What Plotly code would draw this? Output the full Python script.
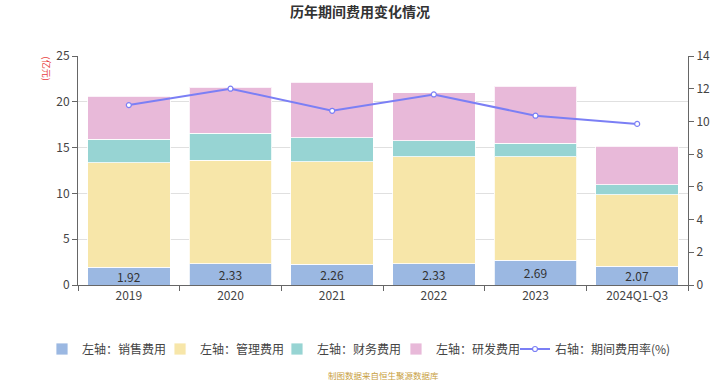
import plotly.graph_objects as go

categories = ["2019", "2020", "2021", "2022", "2023", "2024Q1-Q3"]
sales = [1.92, 2.33, 2.26, 2.33, 2.69, 2.07]
mgmt = [11.43, 11.28, 11.17, 11.67, 11.31, 7.79]
finance = [2.55, 2.95, 2.65, 1.75, 1.47, 1.06]
rnd = [4.73, 5.04, 6.05, 5.24, 6.22, 4.22]
rate = [11.0, 12.0, 10.65, 11.65, 10.35, 9.85]

font_family = "Noto Sans CJK SC, Noto Sans, sans-serif"

fig = go.Figure()
bar_specs = [
    ("左轴：销售费用", sales, "#9bb8e2", "legend"),
    ("左轴：管理费用", mgmt, "#f7e6a9", "legend2"),
    ("左轴：财务费用", finance, "#97d4d3", "legend3"),
    ("左轴：研发费用", rnd, "#e8b9d9", "legend4"),
]
for i, (name, vals, color, lg) in enumerate(bar_specs):
    kw = {}
    if i == 0:
        kw = dict(text=[f"{v:.2f}" for v in vals], textposition="inside",
                  insidetextanchor="middle", constraintext="none",
                  textfont=dict(color="#333333", size=12, family=font_family))
    fig.add_trace(go.Bar(
        x=categories, y=vals, name=name, legend=lg,
        marker=dict(color=color, line=dict(color="rgba(255,255,255,0.8)", width=1)),
        hoverinfo="skip", **kw))

fig.add_trace(go.Scatter(
    x=categories, y=rate, name="右轴：期间费用率(%)", yaxis="y2",
    legend="legend5",
    mode="lines+markers",
    line=dict(color="#7b7ff5", width=2),
    marker=dict(symbol="circle", size=5, color="white",
                line=dict(color="#7b7ff5", width=1.2)),
))

legend_common = dict(orientation="h", xanchor="left", y=-0.2795,
                     yanchor="middle", font=dict(size=12, color="#444444"),
                     itemwidth=30, traceorder="normal", tracegroupgap=0,
                     bgcolor="rgba(0,0,0,0)")

fig.update_layout(
    width=720, height=380,
    barmode="stack", bargap=0.19,
    paper_bgcolor="white", plot_bgcolor="white",
    margin=dict(l=78, r=32, t=56, b=95, autoexpand=False),
    font=dict(family=font_family, size=12, color="#555555"),
    title=dict(text="<b>历年期间费用变化情况</b>", x=0.5, xanchor="center",
               y=0.968, yanchor="middle",
               font=dict(size=14, color="#333333", family=font_family)),
    xaxis=dict(type="category", tickson="boundaries", ticks="outside",
               ticklen=5, tickcolor="#666666", showline=True,
               linecolor="#666666", linewidth=1, showgrid=False,
               tickfont=dict(size=12, color="#444444")),
    yaxis=dict(range=[0, 25], dtick=5, showline=True, linecolor="#666666",
               ticks="outside", ticklen=5, tickcolor="#666666",
               gridcolor="#e0e0e0", zeroline=False,
               tickfont=dict(size=12, color="#444444")),
    yaxis2=dict(range=[0, 14], dtick=2, overlaying="y", side="right",
                showline=True, linecolor="#666666", ticks="outside",
                ticklen=5, tickcolor="#666666", showgrid=False,
                zeroline=False, tickfont=dict(size=12, color="#444444")),
    legend=dict(x=-0.0590, **legend_common),
    legend2=dict(x=0.1345, **legend_common),
    legend3=dict(x=0.3262, **legend_common),
    legend4=dict(x=0.5213, **legend_common),
    legend5=dict(x=0.7164, **legend_common),
    showlegend=True,
)

fig.add_annotation(text="(亿元)", xref="paper", yref="paper", x=-0.0525, y=0.945,
                   xanchor="center", yanchor="middle", textangle=90, showarrow=False,
                   font=dict(size=9, color="#e84040", family=font_family))
fig.add_annotation(text="制图数据来自恒生聚源数据库", xref="paper", yref="paper",
                   x=0.5, y=-0.393, yanchor="middle", showarrow=False,
                   font=dict(size=8.5, color="#c8a040", family=font_family))

fig.write_html("out.html", config={"displayModeBar": False},
               post_script="document.body.style.margin='0';document.body.style.overflow='hidden';")
